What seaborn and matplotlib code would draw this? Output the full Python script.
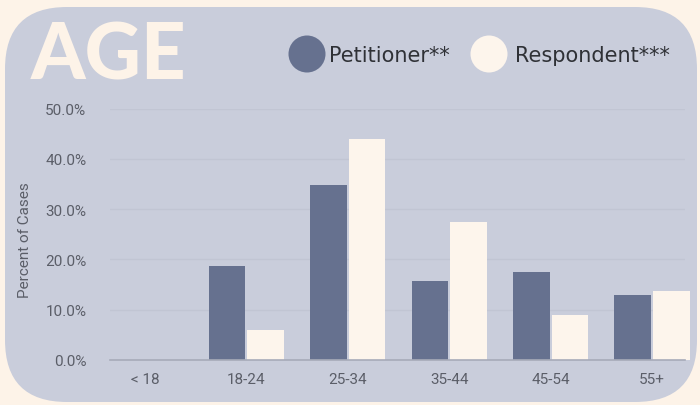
import matplotlib.pyplot as plt
import matplotlib.patches as mpatches
import pandas as pd
import seaborn as sns

# data
age_groups = ["< 18", "18-24", "25-34", "35-44", "45-54", "55+"]
petitioner = [0.0, 18.7, 34.7, 15.8, 17.4, 13.0]
respondent = [0.0, 6.0, 44.0, 27.5, 8.9, 13.7]
series_names = ["Petitioner**", "Respondent***"]
y_ticks = [0, 10, 20, 30, 40, 50]

# colours
outer_bg = "#fdf3e8"
panel_bg = "#c9cddb"
pet_color = "#66718f"
resp_color = "#fdf5ec"
text_gray = "#5b5e68"

df = pd.DataFrame({
    "age": age_groups * 2,
    "pct": petitioner + respondent,
    "who": [series_names[0]] * len(age_groups) + [series_names[1]] * len(age_groups),
})

sns.set_theme(style="white")
plt.rcParams["font.family"] = ["Roboto", "DejaVu Sans"]

W, H = 700, 406
fig = plt.figure(figsize=(W / 100, H / 100), dpi=100)
fig.patch.set_facecolor(outer_bg)

# background panel drawn in pixel coords
ax_bg = fig.add_axes([0, 0, 1, 1], zorder=0)
ax_bg.set_xlim(0, W)
ax_bg.set_ylim(H, 0)
ax_bg.axis("off")
ax_bg.add_patch(mpatches.FancyBboxPatch((5, 8), 692, 395,
                                        boxstyle="round,pad=0,rounding_size=62",
                                        facecolor=panel_bg, edgecolor="none"))

# title
ax_bg.text(31, 80, "AGE", fontsize=56, fontweight="black", family="Lato",
           color=outer_bg, ha="left", va="baseline")

# legend
ax_bg.add_patch(mpatches.Circle((307, 55), 18.5, facecolor=pet_color, edgecolor="none"))
ax_bg.text(329, 56, series_names[0], fontsize=15, family="DejaVu Sans", color="#2f3136",
           ha="left", va="center")
ax_bg.add_patch(mpatches.Circle((489, 55), 18.5, facecolor=resp_color, edgecolor="none"))
ax_bg.text(515, 56, series_names[1], fontsize=15, family="DejaVu Sans", color="#2f3136",
           ha="left", va="center")

# main chart axes
x0, x1, y0, y1 = 110, 685, 361, 109.5
ax = fig.add_axes([x0 / W, (H - y0) / H, (x1 - x0) / W, (y0 - y1) / H], zorder=1)
ax.patch.set_alpha(0)

sns.barplot(data=df, x="age", y="pct", hue="who", order=age_groups,
            hue_order=series_names, palette=[pet_color, resp_color],
            width=0.76, gap=0.05, linewidth=0, saturation=1, ax=ax, legend=False)
for p in ax.patches:
    p.set_clip_on(False)

ax.set_xlim(-0.345, 5.325)
ax.set_ylim(0, 50)
ax.set_yticks(y_ticks)
ax.set_yticklabels([f"{v:.1f}%" for v in y_ticks])
ax.yaxis.grid(True, color="#c1c5d3", linewidth=1)
ax.set_axisbelow(True)
ax.tick_params(axis="y", length=0, pad=17, labelsize=11, labelcolor=text_gray)
ax.tick_params(axis="x", length=0, pad=9, labelsize=11, labelcolor=text_gray)
for s in ["top", "right", "left"]:
    ax.spines[s].set_visible(False)
ax.spines["bottom"].set_color("#a7abb9")
ax.spines["bottom"].set_linewidth(1.2)

ax.set_xlabel("")
ax.set_ylabel("Percent of Cases", fontsize=11, color=text_gray)
ax.yaxis.set_label_coords(-0.136, 0.48)

fig.savefig("out.png", dpi=100, facecolor=outer_bg)
